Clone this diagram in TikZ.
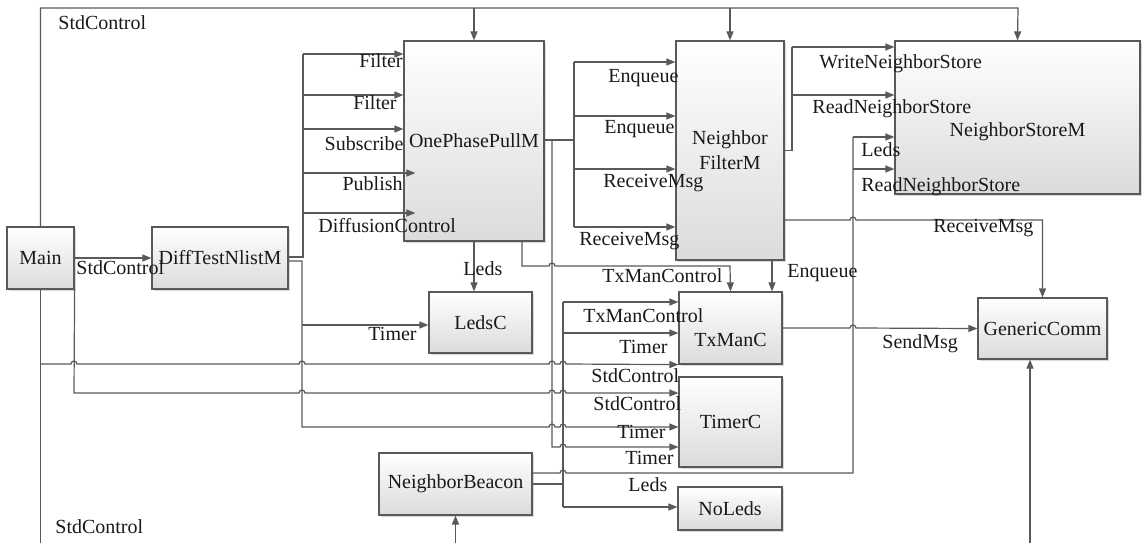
\documentclass[tikz,border=0pt]{standalone}
\usepackage{fontspec}
\setmainfont{Liberation Serif}
\usetikzlibrary{arrows.meta,shadows,calc}

\newcommand\hop[2]{-- ({#1-3},#2) arc[start angle=180,end angle=0,radius=1.5pt]}

\begin{document}
\begin{tikzpicture}[x=0.5pt,y=-0.5pt,
        blk/.style={draw=black!65, line width=0.6pt, top color=white, bottom color=black!14,
                text=black!90, font=\rmfamily\fontsize{10}{12.5}\selectfont, inner sep=0pt,
                general shadow={fill=black!15, shadow xshift=1.2pt, shadow yshift=-1.2pt}},
        wire/.style={draw=black!65, line width=0.6pt},
        lbl/.style={text=black!90, font=\rmfamily\fontsize{10}{12}\selectfont, inner sep=0pt,
                text height=7pt, text depth=2pt},
        >={Triangle[length=4.5pt,width=3.5pt]}]
        \useasboundingbox (0,0) rectangle (1146,543);

        \node[blk, minimum width=33.5pt, minimum height=31pt] (main) at (40.5,258) {Main};
        \node[blk, minimum width=68pt, minimum height=31pt] (diff) at (220,258) {DiffTestNlistM};
        \node[blk, minimum width=70pt, minimum height=100pt] (opp) at (474,141) {OnePhasePullM};
        \node[blk, minimum width=54pt, minimum height=109.5pt, align=center] (filt) at (730,150.5) {Neighbor\\FilterM};
        \node[blk, minimum width=122.5pt, minimum height=76.5pt] (store) at (1017.5,117.5) {\raisebox{-9.5pt}[0pt][0pt]{NeighborStoreM}};
        \node[blk, minimum width=51.5pt, minimum height=30.5pt] (ledsc) at (480.5,322.5) {LedsC};
        \node[blk, minimum width=51.5pt, minimum height=36pt] (txman) at (730.5,328) {\raisebox{-9.3pt}[0pt][0pt]{TxManC}};
        \node[blk, minimum width=51.5pt, minimum height=45pt] (timer) at (730.5,422) {TimerC};
        \node[blk, minimum width=52pt, minimum height=21.5pt] (noleds) at (730,508.5) {NoLeds};
        \node[blk, minimum width=76.5pt, minimum height=31pt] (beacon) at (455.5,484) {NeighborBeacon};
        \node[blk, minimum width=64.5pt, minimum height=30.5pt] (generic) at (1042.5,328.5) {GenericComm};

        \coordinate (ctrlout) at (40.5,543);
        \coordinate (bcnin) at (455.5,543);
        \coordinate (gcin) at (1030,543);

        \draw[wire,->] (main.north) -- (40.5,8) -- (1018,8) -- (store.north);
        \draw[wire,->] (474,8) -- (opp.north);
        \draw[wire,->] (730,8) -- (filt.north);
        \draw[wire] (main.south) -- (ctrlout);
        \draw[wire,->] (40.5,364) \hop{74}{364} \hop{302}{364} \hop{552}{364} \hop{563}{364} -- (txman.south west);
        \draw[wire,->] (main.south east) -- (74,393) \hop{302}{393} \hop{552}{393} \hop{563}{393} -- (timer.west |- 0,393);
        \draw[wire,->] (main) -- (diff);

        \draw[wire] (diff.east |- 0,257) -- (303,257) -- (303,54);
        \foreach \y in {54,95,129} \draw[wire,->] (303,\y) -- (opp.west |- 0,\y);
        \foreach \y in {173,213} \draw[wire,->] (303,\y) -- ($(opp.west |- 0,\y)+(12,0)$);
        \draw[wire,->] (diff.east |- 0,261) -- (302,261) -- (302,427) \hop{552}{427} \hop{563}{427} -- (timer.west |- 0,427);
        \draw[wire,->] (302,325) -- (ledsc.west |- 0,325);

        \draw[wire] (opp.east |- 0,140) -- (574,140);
        \draw[wire] (574,62) -- (574,227);
        \foreach \y in {62,116,169,227} \draw[wire,->] (574,\y) -- (filt.west |- 0,\y);
        \draw[wire,->] (552,140) -- (552,447) \hop{563}{447} -- (timer.west |- 0,447);
        \draw[wire,->] ([xshift=24pt]opp.south) -- (522,266) \hop{552}{266} -- (730,266) -- (txman.north);
        \draw[wire,->] (opp.south) -- (opp.south |- ledsc.north);

        \draw[wire] (filt.east) -- (792,150.5) -- (792,47);
        \foreach \y in {47,95} \draw[wire,->] (792,\y) -- (store.west |- 0,\y);
        \draw[wire,->] (filt.east |- 0,220) \hop{853}{220} -- (1042.5,220) -- (generic.north);
        \draw[wire,->] (filt.south -| 772,0) -- (txman.north -| 772,0);
        \draw[wire,->] (txman.east) \hop{853}{328} -- (generic.west);

        \draw[wire] (beacon.east |- 0,473) \hop{563}{473} -- (853,473) -- (853,137);
        \foreach \y in {137,169} \draw[wire,->] (853,\y) -- (store.west |- 0,\y);
        \draw[wire] (beacon.east) -- (563,484);
        \draw[wire] (563,302) -- (563,507);
        \foreach \y in {302,333} \draw[wire,->] (563,\y) -- (txman.west |- 0,\y);
        \draw[wire,->] (563,507) -- (noleds.west |- 0,507);

        \draw[wire,->] (bcnin) -- (beacon.south);
        \draw[wire,->] (gcin) -- (gcin |- generic.south);

        \node[lbl, anchor=west] (ctltop) at (58,24) {StdControl};
        \node[lbl, anchor=west] (ctlbot) at (55,528) {StdControl};
        \node[lbl, anchor=west] (ctlmain) at (76,269) {StdControl};
        \node[lbl, anchor=east] (filt1) at (403,62) {Filter};
        \node[lbl, anchor=east] (filt2) at (397,104) {Filter};
        \node[lbl, anchor=east] (subs) at (404,145) {Subscribe};
        \node[lbl, anchor=east] (publ) at (403,185) {Publish};
        \node[lbl, anchor=west] (dctl) at (318,227) {DiffusionControl};
        \node[lbl, anchor=west] (leds1) at (463,270) {Leds};
        \node[lbl, anchor=east] (tim1) at (417,335) {Timer};
        \node[lbl, anchor=west] (enq1) at (608,77) {Enqueue};
        \node[lbl, anchor=west] (enq2) at (604,128) {Enqueue};
        \node[lbl, anchor=west] (rcv1) at (603,182) {ReceiveMsg};
        \node[lbl, anchor=west] (rcv2) at (579,240) {ReceiveMsg};
        \node[lbl, anchor=west] (txc1) at (602,277) {TxManControl};
        \node[lbl, anchor=west] (enq3) at (787,272) {Enqueue};
        \node[lbl, anchor=west] (wns) at (819,63) {WriteNeighborStore};
        \node[lbl, anchor=west] (rns1) at (812,108) {ReadNeighborStore};
        \node[lbl, anchor=west] (leds2) at (861,151) {Leds};
        \node[lbl, anchor=west] (rns2) at (861,186) {ReadNeighborStore};
        \node[lbl, anchor=west] (rcv3) at (933,227) {ReceiveMsg};
        \node[lbl, anchor=west] (send) at (882,343) {SendMsg};
        \node[lbl, anchor=west] (txc2) at (583,317) {TxManControl};
        \node[lbl, anchor=west] (tim2) at (619,348) {Timer};
        \node[lbl, anchor=west] (ctl1) at (591,377) {StdControl};
        \node[lbl, anchor=west] (ctl2) at (593,405) {StdControl};
        \node[lbl, anchor=west] (tim3) at (617,433) {Timer};
        \node[lbl, anchor=west] (tim4) at (625,459) {Timer};
        \node[lbl, anchor=west] (leds3) at (628,486) {Leds};
    \end{tikzpicture}
\end{document}
